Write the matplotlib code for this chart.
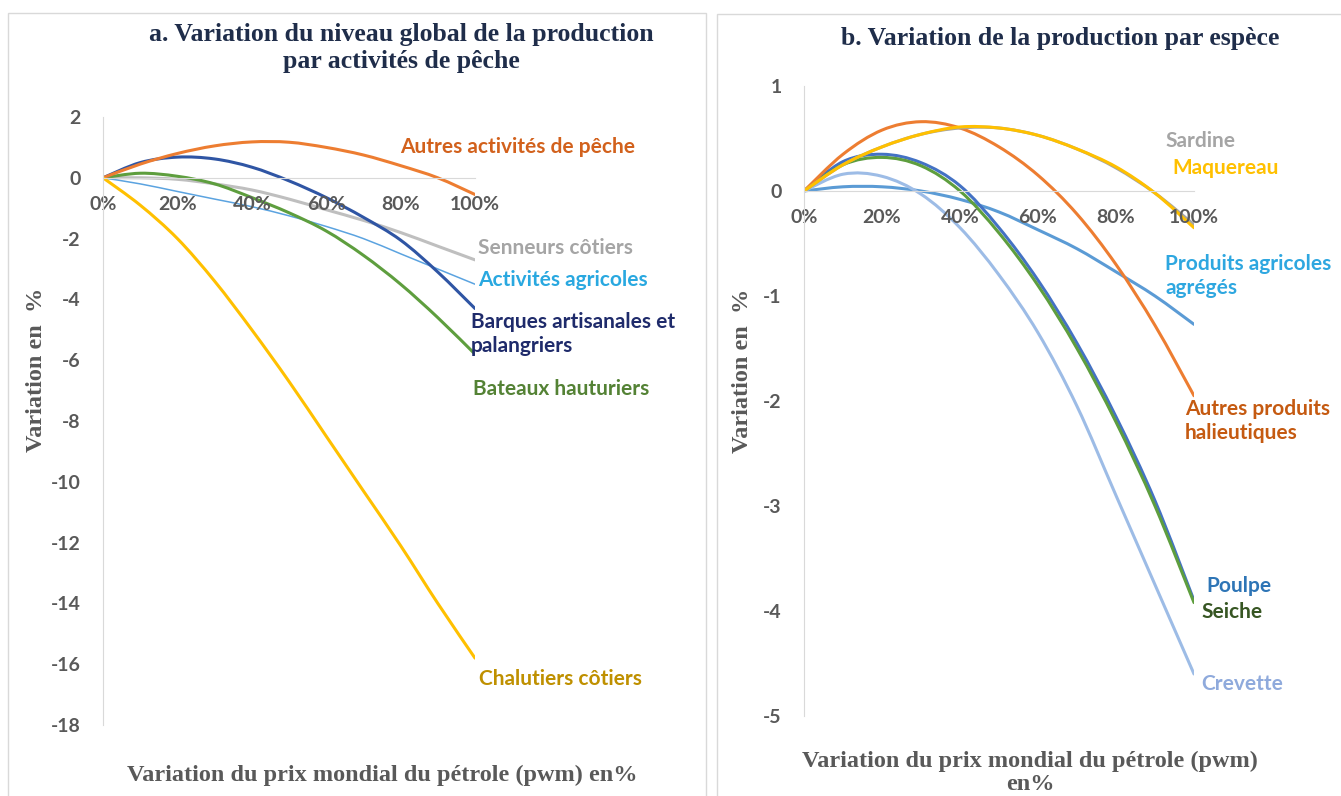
import numpy as np
import matplotlib.pyplot as plt
from matplotlib.patches import Rectangle, PathPatch
from matplotlib.path import Path
from matplotlib.ticker import FuncFormatter

plt.rcParams['font.family'] = ['Lato', 'DejaVu Sans']
plt.rcParams['axes.unicode_minus'] = False

# shared x axis: variation of the world oil price (%)
pct = [0, 10, 20, 30, 40, 50, 60, 70, 80, 90, 100]

# panel a: production by fishing activity
autres_activites = [0, 0.45, 0.8, 1.05, 1.18, 1.17, 1.0, 0.75, 0.4, 0.0, -0.55]
senneurs = [0, 0.0, -0.05, -0.2, -0.4, -0.7, -1.05, -1.4, -1.8, -2.25, -2.7]
activites_agricoles = [0, -0.2, -0.45, -0.7, -0.95, -1.25, -1.6, -2.0, -2.5, -3.0, -3.5]
barques = [0, 0.5, 0.68, 0.62, 0.35, -0.1, -0.65, -1.3, -2.05, -3.1, -4.3]
bateaux = [0, 0.15, 0.05, -0.2, -0.65, -1.15, -1.75, -2.55, -3.5, -4.6, -5.8]
chalutiers = [0, -0.9, -2.0, -3.4, -5.0, -6.7, -8.5, -10.3, -12.1, -14.0, -15.8]

# panel b: production by species
sardine = [0, 0.25, 0.42, 0.54, 0.6, 0.6, 0.53, 0.4, 0.22, -0.02, -0.32]
maquereau = [0, 0.25, 0.42, 0.54, 0.61, 0.6, 0.53, 0.4, 0.23, -0.02, -0.35]
produits_agricoles = [0, 0.04, 0.04, 0.0, -0.08, -0.2, -0.37, -0.55, -0.77, -1.0, -1.27]
autres_produits = [0, 0.35, 0.58, 0.66, 0.6, 0.42, 0.15, -0.22, -0.7, -1.28, -1.95]
poulpe = [0, 0.28, 0.35, 0.27, 0.05, -0.35, -0.85, -1.45, -2.15, -2.95, -3.9]
seiche = [0, 0.25, 0.32, 0.24, 0.0, -0.4, -0.9, -1.5, -2.2, -3.0, -3.92]
crevette = [0, 0.16, 0.14, -0.03, -0.35, -0.8, -1.35, -2.05, -2.9, -3.75, -4.6]

GRID = '#D9D9D9'
TXT = '#595959'
TITLE = '#1F2D4A'
SERIF = 'Liberation Serif'

fig = plt.figure(figsize=(13.41, 7.96), dpi=100)
W, H = 1341, 796


def box(x0, y0, x1, y1):
    # px coords -> figure fraction
    return [x0 / W, 1 - y1 / H, (x1 - x0) / W, (y1 - y0) / H]


def smooth_line(ax, x, y, color, lw):
    # Excel-like "smoothed line": cubic bezier through every data point
    p = np.column_stack([x, y]).astype(float)
    ext = np.vstack([p[0], p, p[-1]])
    verts = [p[0]]
    codes = [Path.MOVETO]
    for i in range(1, len(ext) - 2):
        p0, p1, p2, p3 = ext[i - 1], ext[i], ext[i + 1], ext[i + 2]
        verts += [p1 + (p2 - p0) / 6, p2 - (p3 - p1) / 6, p2]
        codes += [Path.CURVE4] * 3
    ax.add_patch(PathPatch(Path(verts, codes), fill=False, ec=color, lw=lw,
                           capstyle='round', joinstyle='round'))


# panel frames
fig.patches.append(Rectangle((8 / W, -0.05), 698 / W, 1 - 13 / H + 0.05,
                             transform=fig.transFigure, fill=False, ec=GRID, lw=1))
fig.patches.append(Rectangle((717 / W, -0.05), 0.5, 1 - 14 / H + 0.05,
                             transform=fig.transFigure, fill=False, ec=GRID, lw=1))


def style(ax, ymin, ymax, step, xpad):
    ax.set_xlim(0, 100)
    ax.set_ylim(ymin, ymax)
    for s in ['top', 'right']:
        ax.spines[s].set_visible(False)
    ax.spines['left'].set_color(GRID)
    ax.spines['bottom'].set_color(GRID)
    ax.spines['bottom'].set_position(('data', 0))
    ax.set_xticks(pct[::2])
    ax.xaxis.set_major_formatter(FuncFormatter(lambda v, p: f'{v:.0f}%'))
    ax.set_yticks(range(ymin, ymax + 1, step))
    ax.tick_params(length=0, labelsize=14, labelcolor=TXT)
    ax.tick_params(axis='x', pad=xpad)
    ax.tick_params(axis='y', pad=16)
    for t in ax.get_xticklabels() + ax.get_yticklabels():
        t.set_fontweight('bold')
    ax.patch.set_alpha(0)


# ---- panel a ----
ax1 = fig.add_axes(box(103, 117, 475, 725))
smooth_line(ax1, pct, senneurs, '#BFBFBF', 2.2)
smooth_line(ax1, pct, activites_agricoles, '#5BA3E0', 1.1)
smooth_line(ax1, pct, bateaux, '#5E9E3E', 2.2)
smooth_line(ax1, pct, barques, '#2F55A4', 2.2)
smooth_line(ax1, pct, autres_activites, '#ED7D31', 2.2)
smooth_line(ax1, pct, chalutiers, '#FFC000', 2.2)
style(ax1, -18, 2, 2, 13)

lab = dict(fontsize=15, fontweight='bold', va='center', ha='left', linespacing=1.25)
ax1.text(79.8, 1.02, 'Autres activités de pêche', color='#D2611C', **lab)
ax1.text(100.8, -2.3, 'Senneurs côtiers', color='#A5A5A5', **lab)
ax1.text(100.8, -3.36, 'Activités agricoles', color='#29A8E0', **lab)
ax1.text(98.9, -5.13, 'Barques artisanales et\npalangriers', color='#1F2B6B', **lab)
ax1.text(99.5, -6.94, 'Bateaux hauturiers', color='#548235', **lab)
ax1.text(101, -16.48, 'Chalutiers côtiers', color='#BF9000', **lab)

fig.text(401 / W, 1 - 48 / H, 'a. Variation du niveau global de la production\npar activités de pêche',
         ha='center', va='center', fontsize=18.5, fontweight='bold', family=SERIF,
         color=TITLE, linespacing=1.25)
fig.text(382 / W, 1 - 775 / H, 'Variation du prix mondial du pétrole (pwm) en%',
         ha='center', va='center', fontsize=17.5, fontweight='bold', family=SERIF, color=TXT)
fig.text(37 / W, 1 - 370 / H, 'Variation en  %', rotation=90, ha='center', va='center',
         fontsize=17.5, fontweight='bold', family=SERIF, color=TXT)

# ---- panel b ----
ax2 = fig.add_axes(box(804, 86, 1194, 716))
smooth_line(ax2, pct, produits_agricoles, '#5B9BD5', 2.2)
smooth_line(ax2, pct, crevette, '#9DBCE6', 2.2)
smooth_line(ax2, pct, poulpe, '#4472C4', 2.2)
smooth_line(ax2, pct, seiche, '#5E9E3E', 2.2)
smooth_line(ax2, pct, autres_produits, '#ED7D31', 2.2)
smooth_line(ax2, pct, sardine, '#A5A5A5', 2.2)
smooth_line(ax2, pct, maquereau, '#FFC000', 2.2)
style(ax2, -5, 1, 1, 13)

ax2.text(92.6, 0.48, 'Sardine', color='#A5A5A5', **lab)
ax2.text(94.4, 0.22, 'Maquereau', color='#FFC000', **lab)
ax2.text(92.6, -0.81, 'Produits agricoles\nagrégés', color='#2EA7E0', **lab)
ax2.text(97.7, -2.19, 'Autres produits\nhalieutiques', color='#C55A11', **lab)
ax2.text(103.3, -3.76, 'Poulpe', color='#2E75B6', **lab)
ax2.text(102, -4.01, 'Seiche', color='#375623', **lab)
ax2.text(101.8, -4.70, 'Crevette', color='#8FAADC', **lab)

fig.text(1060 / W, 1 - 38 / H, 'b. Variation de la production par espèce',
         ha='center', va='center', fontsize=18.5, fontweight='bold', family=SERIF, color=TITLE)
fig.text(1030 / W, 1 - 773 / H, 'Variation du prix mondial du pétrole (pwm)\nen%',
         ha='center', va='center', fontsize=17.5, fontweight='bold', family=SERIF,
         color=TXT, linespacing=1.15)
fig.text(743 / W, 1 - 371 / H, 'Variation en  %', rotation=90, ha='center', va='center',
         fontsize=17.5, fontweight='bold', family=SERIF, color=TXT)

fig.savefig('out.png', dpi=100)
